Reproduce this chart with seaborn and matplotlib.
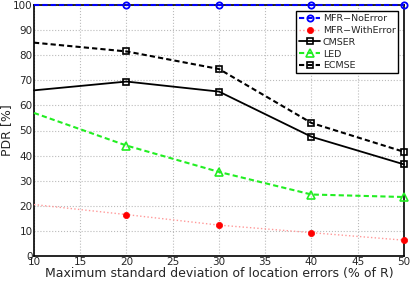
import numpy as np
import pandas as pd
import matplotlib
matplotlib.use('Agg')
import matplotlib.pyplot as plt
import seaborn as sns

# values
x_dev = [10, 20, 30, 40, 50]
mfr_noerror = [100, 100, 100, 100, 100]
mfr_witherror = [20.5, 16.5, 12.3, 9.3, 6.3]
cmser = [66, 69.5, 65.5, 47.5, 36.5]
led = [57, 44, 33.5, 24.5, 23.5]
ecmse = [85, 81.5, 74.5, 53, 41.5]

sns.set_style('white')
plt.rcParams['font.family'] = ['DejaVu Sans']

fig = plt.figure(figsize=(4.14, 2.86), dpi=100)
ax = fig.add_axes([34 / 414, 1 - 256 / 286, 370 / 414, 251 / 286])

series = [
    ('MFR\u2212NoError', mfr_noerror, dict(color='blue', ls=(0, (2.5, 1.5)), marker='o', lw=1.5, ms=4.5,
                                            mfc='none', mec='blue', mew=1.3)),
    ('MFR\u2212WithError', mfr_witherror, dict(color='#ff9999', ls=':', marker='o', lw=1, ms=4.5,
                                                mfc='red', mec='red', mew=0.5)),
    ('CMSER', cmser, dict(color='black', ls='-', marker='s', lw=1.3, ms=5, mfc='none', mec='black', mew=1.2)),
    ('LED', led, dict(color='#22ee22', ls=(0, (2.5, 1.5)), marker='^', lw=1.5, ms=6, mfc='none',
                      mec='#22ee22', mew=1.2)),
    ('ECMSE', ecmse, dict(color='black', ls=(0, (2.5, 1.5)), marker='s', lw=1.5, ms=5, mfc='none',
                          mec='black', mew=1.2)),
]

for name, vals, style in series:
    df = pd.DataFrame({'x': x_dev, 'y': vals})
    sns.lineplot(data=df, x='x', y='y', ax=ax, label=name, markevery=[1, 2, 3, 4],
                 clip_on=False, zorder=5, **style)

ax.set_xlim(10, 50)
ax.set_ylim(0, 100)
ax.set_xticks(np.arange(10, 51, 5))
ax.set_yticks(np.arange(0, 101, 10))
ax.tick_params(labelsize=7.5, length=3, direction='in', pad=1)
ax.grid(True, color='#bbbbbb', ls=':', lw=0.8)
for s in ax.spines.values():
    s.set_color('black')
    s.set_linewidth(1.2)
ax.set_xlabel('Maximum standard deviation of location errors (% of R)', fontsize=9, labelpad=0)
ax.set_ylabel('PDR [%]', fontsize=9, labelpad=0)

leg = ax.legend(loc='upper right', bbox_to_anchor=(0.985, 0.975), fontsize=6.8, frameon=True,
                fancybox=False, edgecolor='black', framealpha=1, handlelength=2.2,
                handletextpad=0.3, labelspacing=0.3, borderpad=0.3, borderaxespad=0)
leg.get_frame().set_linewidth(1)
leg.set_zorder(10)

fig.savefig('out.png', dpi=100)
